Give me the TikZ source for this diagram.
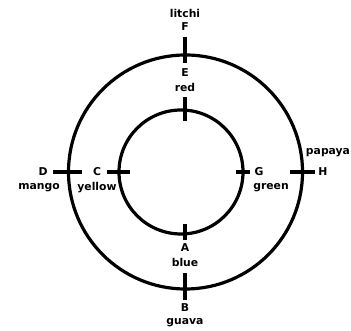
\documentclass[tikz,border=0pt]{standalone}
\usepackage{fontspec}
\setmainfont{DejaVu Sans}
\begin{document}
\begin{tikzpicture}[x=1pt,y=1pt,
  ring/.style={line width=3.2pt},
  tick/.style={line width=3.2pt},
  lbl/.style={font=\bfseries\fontsize{10.8}{12}\selectfont, inner sep=0pt, anchor=center}]
\useasboundingbox (0,0) rectangle (351,331);
\fill[white] (0,0) rectangle (351,331);
% two concentric rings
\coordinate (oc) at (185.5,159);
\coordinate (ic) at (181,159);
\draw[ring] (oc) circle (117);
\draw[ring] (ic) circle (62);
% tick end points
\coordinate (F1) at (185,294); \coordinate (F2) at (185,268);
\coordinate (E1) at (185,234); \coordinate (E2) at (185,210);
\coordinate (A1) at (185,107); \coordinate (A2) at (185,91);
\coordinate (B1) at (185,58);  \coordinate (B2) at (185,31);
\coordinate (D1) at (53,159);  \coordinate (D2) at (82,159);
\coordinate (C1) at (107,159); \coordinate (C2) at (130,159);
\coordinate (G1) at (236,159); \coordinate (G2) at (250,159);
\coordinate (H1) at (290,159); \coordinate (H2) at (315,159);
\foreach \p in {F,E,A,B,D,C,G,H} \draw[tick] (\p1) -- (\p2);
% labels
\node[lbl] (litchi) at (185,318) {litchi};
\node[lbl] (F) at (185,304) {F};
\node[lbl] (E) at (185,258) {E};
\node[lbl] (red) at (185,244) {red};
\node[lbl] (A) at (185,83) {A};
\node[lbl] (blue) at (185,69) {blue};
\node[lbl] (B) at (185,23) {B};
\node[lbl] (guava) at (185,8) {guava};
\node[lbl] (D) at (43,159) {D};
\node[lbl] (mango) at (39,143) {mango};
\node[lbl] (C) at (97,159) {C};
\node[lbl] (yellow) at (97,143) {yellow};
\node[lbl] (G) at (259,159) {G};
\node[lbl] (green) at (271,143) {green};
\node[lbl] (H) at (323,159) {H};
\node[lbl] (papaya) at (328,178) {papaya};
\end{tikzpicture}
\end{document}
